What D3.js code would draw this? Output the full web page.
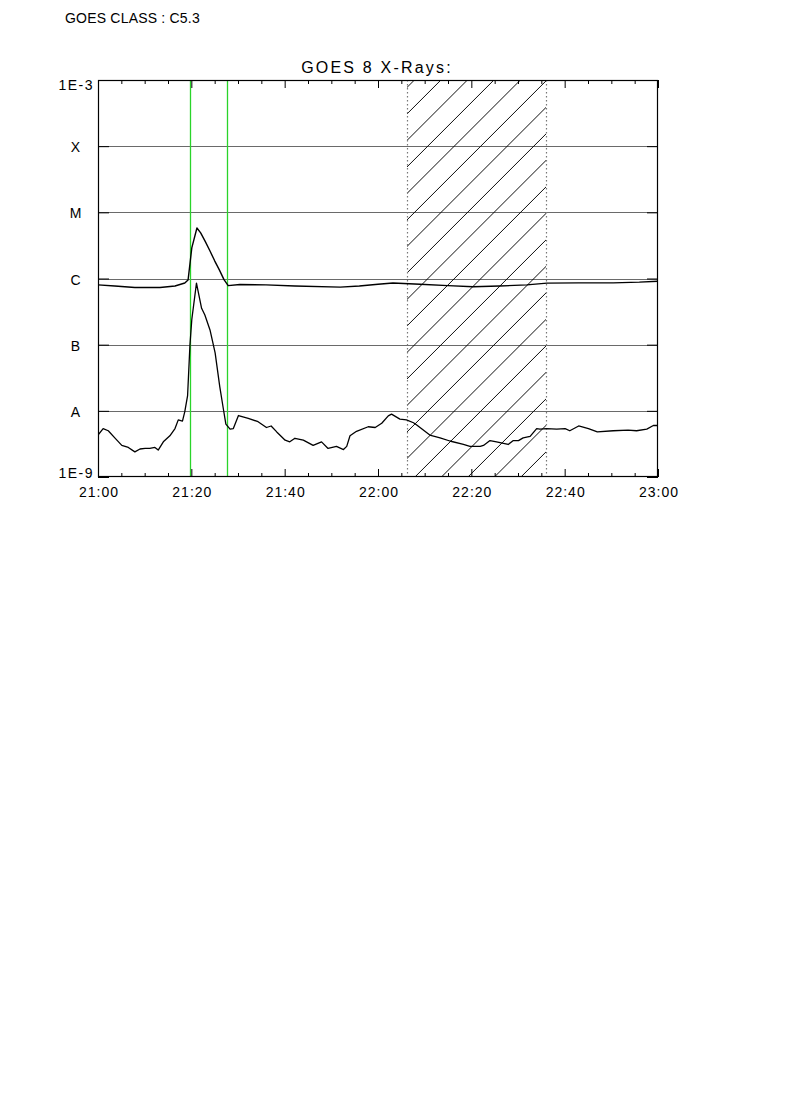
<!DOCTYPE html>
<html>
<head>
<meta charset="utf-8">
<script src="https://cdn.jsdelivr.net/npm/d3@7"></script>
<style>
  html, body { margin: 0; padding: 0; background: #fff; }
  svg { display: block; }
  text { font-family: "Liberation Sans", Arial, sans-serif; fill: #000; }
</style>
</head>
<body>
<svg id="chart" width="790" height="1118"></svg>
<script>
// ---------------- DATA ----------------
const classText = "GOES CLASS : C5.3";
const titleText = "GOES 8 X-Rays:";

// time axis: minutes after 21:00
const xTickMinutes = [0, 20, 40, 60, 80, 100, 120];
const xTickLabels = ["21:00", "21:20", "21:40", "22:00", "22:20", "22:40", "23:00"];
const xMinorStep = 5;

// flux axis (W/m^2)
const yTickValues = [1e-9, 1e-8, 1e-7, 1e-6, 1e-5, 1e-4, 1e-3];
const yTickLabels = ["1E-9", "A", "B", "C", "M", "X", "1E-3"];
const gridValues = [1e-8, 1e-7, 1e-6, 1e-5, 1e-4];

// long channel (1-8 A)
const longTime = [0, 3.6, 7.9, 13.3, 16.5, 18.6, 19.3, 20.1, 21.2, 22.0, 23.0, 24.0, 25.0, 26.0, 27.0, 27.9,
                  30.4, 36, 42.2, 51.9, 56, 60, 63.2, 69, 75, 80.4, 86, 91.9, 96.2, 103, 110.4, 116, 120];
const longFlux = [8.0e-7, 7.7e-7, 7.3e-7, 7.3e-7, 7.7e-7, 8.55e-7, 9.5e-7, 2.9e-6, 5.8e-6, 4.9e-6, 3.6e-6, 2.6e-6,
                  1.85e-6, 1.35e-6, 9.6e-7, 7.8e-7, 8.1e-7, 8.0e-7, 7.7e-7, 7.4e-7, 7.7e-7, 8.2e-7, 8.55e-7, 8.2e-7,
                  7.8e-7, 7.5e-7, 7.7e-7, 8.0e-7, 8.5e-7, 8.6e-7, 8.6e-7, 8.8e-7, 9.1e-7];

// short channel (0.5-4 A)
const shortTime = [0, 1.1, 2.2, 3.6, 5.1, 6.5, 7.9, 9.0, 10.1, 11.1, 12.2, 12.9, 14.0, 15.4, 16.5, 17.2, 18.1, 18.6,
                   19.2, 19.7, 20.1, 21.1, 22.2, 22.9, 24.0, 25.1, 26.1, 26.9, 27.4, 28.3, 29.0, 30.1, 32.2, 34.3,
                   36.1, 37.1, 38.3, 40.1, 41.1, 42.2, 44.0, 46.1, 47.9, 49.3, 51.1, 52.6, 53.3, 54.0, 55.4, 57.9,
                   59.4, 60.8, 62.2, 62.9, 64.7, 66.1, 67.6, 68.3, 71.1, 73.3, 75.4, 78.3, 79.7, 81.9, 82.6, 84.0,
                   85.4, 87.9, 89.0, 90.1, 91.1, 92.6, 94.0, 94.7, 96.1, 98.3, 100.1, 101.1, 103.0, 105.1, 107.0,
                   110.4, 113.6, 115.4, 117.6, 119.0, 120];
const shortFlux = [4.3e-9, 5.4e-9, 5.0e-9, 3.9e-9, 3.0e-9, 2.8e-9, 2.4e-9, 2.65e-9, 2.7e-9, 2.7e-9, 2.8e-9, 2.55e-9,
                   3.4e-9, 4.2e-9, 5.4e-9, 7.3e-9, 7.0e-9, 9.7e-9, 1.7e-8, 9.8e-8, 2.4e-7, 8.5e-7, 3.55e-7, 2.8e-7,
                   1.67e-7, 7.5e-8, 2.3e-8, 1.03e-8, 6.3e-9, 5.3e-9, 5.4e-9, 8.5e-9, 7.7e-9, 6.85e-9, 5.6e-9, 5.9e-9,
                   4.8e-9, 3.6e-9, 3.4e-9, 3.85e-9, 3.6e-9, 3.0e-9, 3.4e-9, 2.7e-9, 2.9e-9, 2.6e-9, 2.9e-9, 4.2e-9,
                   4.9e-9, 5.75e-9, 5.6e-9, 6.5e-9, 8.4e-9, 8.9e-9, 7.5e-9, 7.3e-9, 6.6e-9, 6.1e-9, 4.3e-9, 3.9e-9,
                   3.5e-9, 3.1e-9, 2.9e-9, 2.9e-9, 3.0e-9, 3.55e-9, 3.4e-9, 3.1e-9, 3.55e-9, 3.55e-9, 3.9e-9, 4.1e-9,
                   5.4e-9, 5.3e-9, 5.4e-9, 5.3e-9, 5.4e-9, 5.0e-9, 5.9e-9, 5.4e-9, 4.8e-9, 5.0e-9, 5.1e-9, 5.0e-9,
                   5.3e-9, 6.0e-9, 6.0e-9];

// flare start / end markers (minutes after 21:00)
const flareMarks = [19.8, 27.6];
// data gap (hatched) interval
const gapInterval = [66.2, 96.0];

// ---------------- LAYOUT ----------------
const plot = { left: 98, right: 658, top: 80, bottom: 477 };
const svg = d3.select("#chart");
svg.append("rect").attr("width", 790).attr("height", 1118).attr("fill", "#fff");

const x = d3.scaleLinear().domain([0, 120]).range([plot.left, plot.right]);
const y = d3.scaleLog().domain([1e-9, 1e-3]).range([plot.bottom, plot.top]);

svg.append("defs").append("clipPath").attr("id", "plotClip")
  .append("rect").attr("x", plot.left).attr("y", plot.top)
  .attr("width", plot.right - plot.left).attr("height", plot.bottom - plot.top);

// class text & title
svg.append("text").attr("x", 65).attr("y", 23).attr("font-size", 14).attr("letter-spacing", 0.2).text(classText);
svg.append("text").attr("x", 377).attr("y", 73).attr("font-size", 16)
  .attr("letter-spacing", 2.2).attr("text-anchor", "middle").text(titleText);

// grid lines
svg.append("g").selectAll("line").data(gridValues).join("line")
  .attr("x1", plot.left).attr("x2", plot.right)
  .attr("y1", d => Math.round(y(d)) + 0.5).attr("y2", d => Math.round(y(d)) + 0.5)
  .attr("stroke", "#6a6a6a").attr("stroke-width", 1);

// hatched gap region
const gx0 = x(gapInterval[0]), gx1 = x(gapInterval[1]);
svg.select("defs").append("clipPath").attr("id", "gapClip")
  .append("rect").attr("x", gx0).attr("y", plot.top).attr("width", gx1 - gx0).attr("height", plot.bottom - plot.top);
const hatchSpacing = 26.5, hatchOffset = 8;
const H = plot.bottom - plot.top;
const hatchStarts = [];
for (let s = gx0 + hatchOffset - Math.ceil(H / hatchSpacing) * hatchSpacing; s < gx1; s += hatchSpacing) hatchStarts.push(s);
svg.append("g").attr("clip-path", "url(#gapClip)").selectAll("line").data(hatchStarts).join("line")
  .attr("x1", d => d).attr("y1", plot.bottom)
  .attr("x2", d => d + H).attr("y2", plot.top)
  .attr("stroke", "#000").attr("stroke-width", 0.95);
svg.append("g").selectAll("line").data(gapInterval).join("line")
  .attr("x1", d => Math.round(x(d)) + 0.5).attr("x2", d => Math.round(x(d)) + 0.5)
  .attr("y1", plot.top).attr("y2", plot.bottom)
  .attr("stroke", "#777").attr("stroke-width", 1.2).attr("stroke-dasharray", "1.5,2.5");

// flare markers
svg.append("g").selectAll("line").data(flareMarks).join("line")
  .attr("x1", d => Math.round(x(d)) + 0.5).attr("x2", d => Math.round(x(d)) + 0.5)
  .attr("y1", plot.top).attr("y2", plot.bottom)
  .attr("stroke", "#2ad42a").attr("stroke-width", 1.3);

// curves
const line = d3.line().x(d => x(d[0])).y(d => y(d[1]));
const curves = svg.append("g").attr("clip-path", "url(#plotClip)");
curves.append("path").datum(d3.zip(longTime, longFlux)).attr("d", line)
  .attr("fill", "none").attr("stroke", "#000").attr("stroke-width", 1.4).attr("stroke-linejoin", "round");
curves.append("path").datum(d3.zip(shortTime, shortFlux)).attr("d", line)
  .attr("fill", "none").attr("stroke", "#000").attr("stroke-width", 1.3).attr("stroke-linejoin", "round");

// axes (ticks inward)
const minorTicks = d3.range(0, 121, xMinorStep).filter(m => !xTickMinutes.includes(m));
const fmtX = m => xTickLabels[xTickMinutes.indexOf(m)];
const styleAxis = g => {
  g.select(".domain").remove();
  g.selectAll("line").attr("stroke", "#000").attr("stroke-width", 1);
  g.selectAll("text").attr("font-family", "Liberation Sans, Arial, sans-serif").attr("fill", "#000");
};
svg.append("g").attr("transform", `translate(0,${plot.bottom})`)
  .call(d3.axisBottom(x).tickValues(xTickMinutes).tickFormat(fmtX).tickSizeInner(-8).tickSizeOuter(0).tickPadding(10))
  .call(styleAxis)
  .call(g => g.selectAll("text").attr("font-size", 14).attr("letter-spacing", 1).attr("dx", 0.5));
svg.append("g").attr("transform", `translate(0,${plot.bottom})`)
  .call(d3.axisBottom(x).tickValues(minorTicks).tickFormat("").tickSizeInner(-4).tickSizeOuter(0))
  .call(styleAxis);
svg.append("g").attr("transform", `translate(0,${plot.top})`)
  .call(d3.axisTop(x).tickValues(xTickMinutes).tickFormat("").tickSizeInner(-8).tickSizeOuter(0))
  .call(styleAxis);
svg.append("g").attr("transform", `translate(0,${plot.top})`)
  .call(d3.axisTop(x).tickValues(minorTicks).tickFormat("").tickSizeInner(-4).tickSizeOuter(0))
  .call(styleAxis);
svg.append("g").attr("transform", `translate(${plot.left},0)`)
  .call(d3.axisLeft(y).tickValues(yTickValues).tickFormat("").tickSizeInner(-11).tickSizeOuter(0))
  .call(styleAxis);
svg.append("g").attr("transform", `translate(${plot.right},0)`)
  .call(d3.axisRight(y).tickValues(yTickValues).tickFormat("").tickSizeInner(-11).tickSizeOuter(0))
  .call(styleAxis);

// y labels
svg.append("g").selectAll("text").data(yTickValues).join("text")
  .attr("font-size", 14)
  .attr("dy", "0.36em")
  .text((d, i) => yTickLabels[i])
  .each(function (d, i) {
    const t = d3.select(this);
    const numeric = yTickLabels[i].length > 1;
    let yy = y(d) + 1;
    if (i === 0) yy = y(d) - 4;
    if (i === yTickValues.length - 1) yy = y(d) + 5;
    t.attr("y", yy);
    if (numeric) t.attr("x", 94).attr("text-anchor", "end").attr("letter-spacing", 1.5);
    else t.attr("x", 75.5).attr("text-anchor", "middle");
  });

// frame
svg.append("rect").attr("x", plot.left + 0.5).attr("y", plot.top + 0.5)
  .attr("width", plot.right - plot.left - 1).attr("height", plot.bottom - plot.top - 1)
  .attr("fill", "none").attr("stroke", "#000").attr("stroke-width", 1.2);
</script>
</body>
</html>
